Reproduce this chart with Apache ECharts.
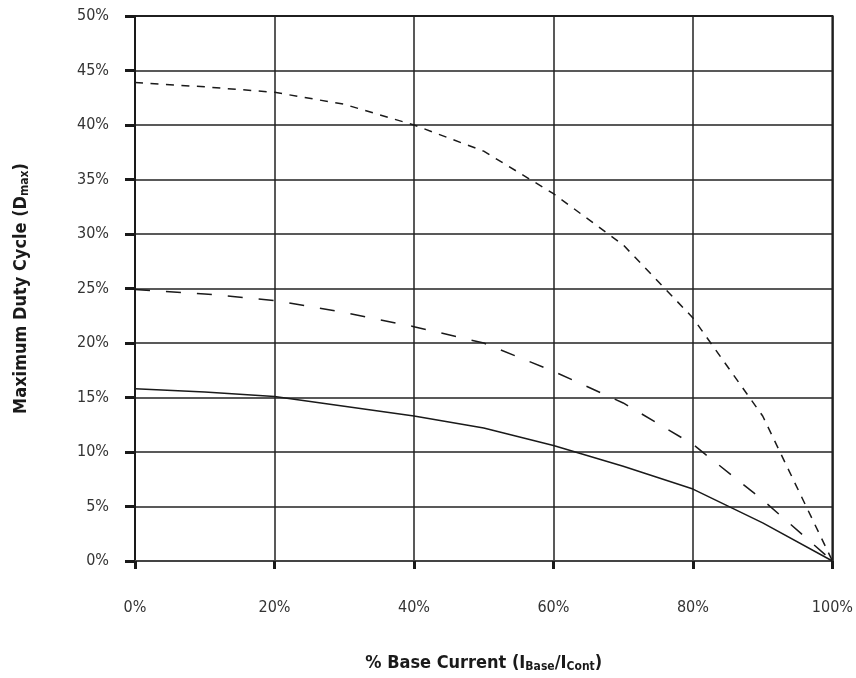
<!DOCTYPE html>
<html>
<head>
<meta charset="utf-8">
<script src="https://cdn.jsdelivr.net/npm/echarts@6/dist/echarts.min.js"></script>
<style>
	html, body { margin: 0; padding: 0; background: #fff; }
	#chart { width: 856px; height: 678px; }
</style>
</head>
<body>
<div id="chart"></div>
<script>
// x = % base current, y = max duty cycle (%)
var baseCurrent = [0, 10, 20, 30, 40, 50, 60, 70, 80, 90, 100];
var dutyShortDash = [43.9, 43.5, 43.0, 41.9, 40.0, 37.6, 33.7, 29.0, 22.3, 13.3, 0];
var dutyLongDash = [24.9, 24.5, 23.9, 22.8, 21.5, 20.0, 17.4, 14.5, 10.7, 5.6, 0];
var dutySolid = [15.8, 15.5, 15.1, 14.2, 13.3, 12.2, 10.6, 8.7, 6.6, 3.5, 0];

var FONT = "'Liberation Sans Narrow', 'DejaVu Sans Condensed', 'Liberation Sans', sans-serif";

function pairs(ys){
	var out = [];
	for (var i = 0; i < baseCurrent.length; i++) {
		out.push([baseCurrent[i], ys[i]]);
	}
	return out;
}

function lineSeries(ys, dash){
	return {
		type: 'line',
		data: pairs(ys),
		symbol: 'none',
		silent: true,
		lineStyle: { color: '#1a1a1a', width: 1.5, type: dash }
	};
}

var myChart = echarts.init(document.getElementById('chart'));
var option = {
	animation: false,
	grid: {
		left: 135, right: 21, top: 16, bottom: 117,
		show: true, borderColor: '#1a1a1a', borderWidth: 2
	},
	xAxis: {
		type: 'value',
		min: 0, max: 100, interval: 20,
		name: '{b|% Base Current (I}{s|Base}{b|/I}{s|Cont}{b|)}',
		nameLocation: 'middle',
		nameGap: 92,
		nameTextStyle: {
			rich: {
				b: { fontFamily: FONT, fontWeight: 'bold', fontSize: 18, color: '#1a1a1a' },
				s: { fontFamily: FONT, fontWeight: 'bold', fontSize: 12, color: '#1a1a1a', verticalAlign: 'bottom', padding: [8, 0, 0, 0] }
			}
		},
		axisLine: { lineStyle: { color: '#444', width: 2 } },
		axisTick: { length: 8, lineStyle: { color: '#1a1a1a', width: 3 } },
		axisLabel: {
			margin: 39, fontFamily: FONT, fontSize: 16, color: '#333',
			formatter: '{value}%'
		},
		splitLine: { lineStyle: { color: '#222', width: 1.5 } }
	},
	yAxis: {
		type: 'value',
		min: 0, max: 50, interval: 5,
		name: '{b|Maximum Duty Cycle (D}{s|max}{b|)}',
		nameLocation: 'middle',
		nameGap: 104,
		nameTextStyle: {
			rich: {
				b: { fontFamily: FONT, fontWeight: 'bold', fontSize: 18, color: '#1a1a1a' },
				s: { fontFamily: FONT, fontWeight: 'bold', fontSize: 12, color: '#1a1a1a', verticalAlign: 'bottom', padding: [8, 0, 0, 0] }
			}
		},
		axisLine: { show: true, lineStyle: { color: '#1a1a1a', width: 2 } },
		axisTick: { show: true, length: 10, lineStyle: { color: '#1a1a1a', width: 3 } },
		axisLabel: {
			margin: 26, fontFamily: FONT, fontSize: 16, color: '#333',
			formatter: '{value}%'
		},
		splitLine: { lineStyle: { color: '#222', width: 1.5 } }
	},
	series: [
		lineSeries(dutyShortDash, [8, 7.5]),
		lineSeries(dutyLongDash, [15, 16]),
		lineSeries(dutySolid, 'solid')
	]
};
myChart.setOption(option);
</script>
</body>
</html>
